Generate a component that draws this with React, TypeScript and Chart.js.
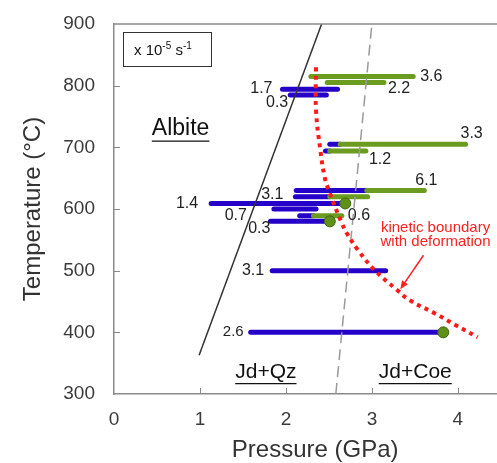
import React, { useEffect, useRef } from 'react';
import { Chart, registerables } from 'chart.js';
Chart.register(...registerables);

const FONT = "'Liberation Sans', Arial, Helvetica, sans-serif";

// Axis ticks
const xTickValues = [0, 1, 2, 3, 4];
const yTickValues = [300, 400, 500, 600, 700, 800, 900];
const xTitle = 'Pressure (GPa)';
const yTitle = 'Temperature (°C)';

// Experiments: temperature (°C), pressure range (GPa); blue part from start to switch, green from switch to end
const barTemps = [815, 805, 794, 785, 705, 694, 630, 620, 609, 600, 589, 580, 500, 400];
const barStart = [2.29, 2.48, 1.96, 2.05, 2.51, 2.46, 2.12, 2.11, 1.13, 1.86, 2.16, 1.82, 1.84, 1.59];
const barSwitch = [2.29, 2.48, 2.6, 2.47, 2.63, 2.51, 2.94, 2.51, 2.69, 2.35, 2.32, 2.51, 3.16, 3.83];
const barEnd = [3.48, 3.14, 2.6, 2.47, 4.09, 2.93, 3.61, 2.95, 2.69, 2.35, 2.65, 2.51, 3.16, 3.83];
const rateLabels = ['3.6', '2.2', '1.7', '0.3', '3.3', '1.2', '6.1', '3.1', '1.4', '0.7', '0.6', '0.3', '3.1', '2.6'];

// Dots at end of some runs
const dotP = [2.69, 2.51, 3.83];
const dotT = [609, 580, 400];

// Albite = Jd + Qz reaction line
const abLineP = [0.99, 2.415];
const abLineT = [363, 900];

// Qz = Coe line
const coeLineP = [2.58, 3.0];
const coeLineT = [300, 900];

// Kinetic boundary with deformation
const kbP = [2.35, 2.35, 2.4, 2.45, 2.51, 2.65, 2.72, 2.84, 3.03, 3.29, 3.44, 3.73, 3.97, 4.23];
const kbT = [830, 760, 696, 652, 626, 577, 558, 533, 501, 469, 452, 431, 412, 392];

// label placement (pixel offsets from bar start/end) – layout only
const labelPlace: { at: 'start' | 'end'; dx: number; dy: number; align: CanvasTextAlign; size: number }[] = [
  { at: 'end', dx: 7, dy: 0, align: 'left', size: 16 },
  { at: 'end', dx: 4, dy: 6, align: 'left', size: 16 },
  { at: 'start', dx: -10, dy: -1, align: 'right', size: 16 },
  { at: 'start', dx: -2, dy: 8, align: 'right', size: 16 },
  { at: 'end', dx: 6, dy: -11, align: 'center', size: 16 },
  { at: 'end', dx: 3, dy: 9, align: 'left', size: 16 },
  { at: 'end', dx: 2, dy: -10, align: 'center', size: 16 },
  { at: 'start', dx: -12, dy: -2, align: 'right', size: 16 },
  { at: 'start', dx: -13, dy: 0, align: 'right', size: 16 },
  { at: 'start', dx: -27, dy: 7, align: 'right', size: 16 },
  { at: 'end', dx: 6, dy: 0, align: 'left', size: 16 },
  { at: 'start', dx: 0, dy: 7, align: 'right', size: 16 },
  { at: 'start', dx: -8, dy: 0, align: 'right', size: 16 },
  { at: 'start', dx: -7, dy: 0, align: 'right', size: 15 },
];

const BLUE = '#2400c8';
const GREEN = '#6b9b1f';
const AXIS = '#8a8a8a';

const annotPlugin = {
  id: 'annot',
  afterLayout(chart: any) {
    // let the plot run to the right edge of the canvas, as in the original
    const xs = chart.scales.x;
    const right = chart.width;
    xs.right = right;
    xs.width = right - xs.left;
    xs.configure();
    chart.chartArea.right = right;
    chart.chartArea.width = right - chart.chartArea.left;
  },
  afterDatasetsDraw(chart: any) {
    const ctx: CanvasRenderingContext2D = chart.ctx;
    const xs = chart.scales.x;
    const ys = chart.scales.y;
    const area = chart.chartArea;
    ctx.save();
    // top frame line
    ctx.strokeStyle = AXIS;
    ctx.lineWidth = 1.5;
    ctx.beginPath();
    ctx.moveTo(area.left, area.top);
    ctx.lineTo(area.right, area.top);
    ctx.stroke();
    // inner tick marks
    ctx.lineWidth = 1;
    xTickValues.forEach((v) => {
      if (v === 0) return;
      const px = Math.round(xs.getPixelForValue(v)) + 0.5;
      ctx.beginPath();
      ctx.moveTo(px, area.bottom);
      ctx.lineTo(px, area.bottom - 6);
      ctx.stroke();
    });
    yTickValues.forEach((v) => {
      if (v === 300 || v === 900) return;
      const py = Math.round(ys.getPixelForValue(v)) + 0.5;
      ctx.beginPath();
      ctx.moveTo(area.left, py);
      ctx.lineTo(area.left + 6, py);
      ctx.stroke();
    });

    // x axis title (slightly right of centre, as in the original)
    ctx.fillStyle = '#333';
    ctx.font = `24px ${FONT}`;
    ctx.textAlign = 'center';
    ctx.textBaseline = 'middle';
    ctx.fillText(xTitle, xs.getPixelForValue(2.34), area.bottom + 56);

    // rate labels
    ctx.fillStyle = '#222';
    ctx.textBaseline = 'middle';
    rateLabels.forEach((t, i) => {
      const pl = labelPlace[i];
      const px = xs.getPixelForValue(pl.at === 'start' ? barStart[i] : barEnd[i]);
      const py = ys.getPixelForValue(barTemps[i]);
      ctx.font = `${pl.size}px ${FONT}`;
      ctx.textAlign = pl.align;
      ctx.fillText(t, px + pl.dx, py + pl.dy);
    });

    // underlined field names
    const underlined = (text: string, p: number, T: number, size: number) => {
      const px = xs.getPixelForValue(p);
      const py = ys.getPixelForValue(T);
      ctx.font = `${size}px ${FONT}`;
      ctx.textAlign = 'left';
      ctx.textBaseline = 'middle';
      ctx.fillStyle = '#111';
      ctx.fillText(text, px, py);
      const w = ctx.measureText(text).width;
      ctx.strokeStyle = '#111';
      ctx.lineWidth = 1.3;
      ctx.beginPath();
      ctx.moveTo(px, py + size * 0.56);
      ctx.lineTo(px + w, py + size * 0.56);
      ctx.stroke();
    };
    underlined('Albite', 0.44, 731, 23);
    underlined('Jd+Qz', 1.41, 336, 21);
    underlined('Jd+Coe', 3.08, 336, 21);

    // red annotation text
    ctx.fillStyle = '#ff2020';
    ctx.font = `15px ${FONT}`;
    ctx.textAlign = 'center';
    ctx.textBaseline = 'middle';
    const tx = xs.getPixelForValue(3.74);
    ctx.fillText('kinetic boundary', tx, ys.getPixelForValue(569));
    ctx.fillText('with deformation', tx, ys.getPixelForValue(547));

    // arrow
    const ax0 = xs.getPixelForValue(3.6), ay0 = ys.getPixelForValue(525);
    const ax1 = xs.getPixelForValue(3.33), ay1 = ys.getPixelForValue(470);
    ctx.strokeStyle = '#ff2020';
    ctx.fillStyle = '#ff2020';
    ctx.lineWidth = 1.5;
    const ang = Math.atan2(ay1 - ay0, ax1 - ax0);
    const hl = 9;
    ctx.beginPath();
    ctx.moveTo(ax0, ay0);
    ctx.lineTo(ax1 - Math.cos(ang) * 4, ay1 - Math.sin(ang) * 4);
    ctx.stroke();
    ctx.beginPath();
    ctx.moveTo(ax1, ay1);
    ctx.lineTo(ax1 - hl * Math.cos(ang - 0.4), ay1 - hl * Math.sin(ang - 0.4));
    ctx.lineTo(ax1 - hl * Math.cos(ang + 0.4), ay1 - hl * Math.sin(ang + 0.4));
    ctx.closePath();
    ctx.fill();

    // legend box for strain rate unit
    const bx = area.left + 9, by = area.top + 8, bw = 88, bh = 34;
    ctx.fillStyle = '#fff';
    ctx.fillRect(bx, by, bw, bh);
    ctx.strokeStyle = '#333';
    ctx.lineWidth = 1;
    ctx.strokeRect(bx + 0.5, by + 0.5, bw, bh);
    ctx.fillStyle = '#111';
    ctx.textAlign = 'left';
    ctx.textBaseline = 'alphabetic';
    let cx = bx + 11;
    const base = by + 23;
    const seg = (s: string, size: number, dy: number) => {
      ctx.font = `${size}px ${FONT}`;
      ctx.fillText(s, cx, base + dy);
      cx += ctx.measureText(s).width;
    };
    seg('x 10', 15, 0);
    seg('-5', 10, -6);
    seg(' s', 15, 0);
    seg('-1', 10, -6);
    ctx.restore();
  },
};

export default function App() {
  const ref = useRef<HTMLCanvasElement | null>(null);
  useEffect(() => {
    document.body.style.margin = '0';
    const canvas = ref.current;
    if (!canvas) return;
    const datasets: any[] = [];
    // dots (on top)
    datasets.push({
      data: dotP.map((p, i) => ({ x: p, y: dotT[i] })),
      showLine: false,
      pointRadius: 5.5,
      pointBackgroundColor: '#5f911a',
      pointBorderColor: '#3d6410',
      pointBorderWidth: 1,
    });
    // kinetic boundary
    datasets.push({
      data: kbP.map((p, i) => ({ x: p, y: kbT[i] })),
      showLine: true,
      borderColor: '#ff1a1a',
      borderWidth: 4,
      borderDash: [4, 4.5],
      borderCapStyle: 'butt',
      tension: 0.4,
      pointRadius: 0,
    });
    datasets.push({
      data: abLineP.map((p, i) => ({ x: p, y: abLineT[i] })),
      showLine: true,
      borderColor: '#333',
      borderWidth: 1.5,
      pointRadius: 0,
    });
    datasets.push({
      data: coeLineP.map((p, i) => ({ x: p, y: coeLineT[i] })),
      showLine: true,
      borderColor: '#9a9a9a',
      borderWidth: 1.5,
      borderDash: [11, 6],
      pointRadius: 0,
    });
    // green parts then blue parts
    barTemps.forEach((T, i) => {
      if (barEnd[i] > barSwitch[i]) {
        datasets.push({
          data: [{ x: barSwitch[i], y: T }, { x: barEnd[i], y: T }],
          showLine: true,
          borderColor: GREEN,
          borderWidth: 5,
          borderCapStyle: 'round',
          pointRadius: 0,
        });
      }
    });
    barTemps.forEach((T, i) => {
      if (barSwitch[i] > barStart[i]) {
        datasets.push({
          data: [{ x: barStart[i], y: T }, { x: barSwitch[i], y: T }],
          showLine: true,
          borderColor: BLUE,
          borderWidth: 5,
          borderCapStyle: 'round',
          pointRadius: 0,
        });
      }
    });

    const chart = new Chart(canvas, {
      type: 'scatter',
      data: { datasets },
      options: {
        responsive: false,
        animation: false,
        devicePixelRatio: 1,
        layout: { padding: { top: 24, right: 0, left: 0, bottom: 0 } },
        plugins: { legend: { display: false }, tooltip: { enabled: false } },
        scales: {
          x: {
            type: 'linear',
            min: 0,
            max: 4.455,
            afterBuildTicks: (s: any) => {
              s.ticks = xTickValues.map((v) => ({ value: v }));
            },
            afterFit: (s: any) => {
              s.height = 69;
              s.paddingLeft = 0;
              s.paddingRight = 0;
            },
            ticks: { font: { family: FONT, size: 19 }, color: '#3a3a3a', padding: 14 },
            grid: { display: false, drawTicks: false },
            border: { display: true, color: AXIS, width: 1.5 },
            title: { display: false },
          },
          y: {
            type: 'linear',
            min: 300,
            max: 900,
            afterBuildTicks: (s: any) => {
              s.ticks = yTickValues.map((v) => ({ value: v }));
            },
            afterFit: (s: any) => {
              s.width = 114;
              s.paddingTop = 0;
              s.paddingBottom = 0;
            },
            ticks: { font: { family: FONT, size: 19 }, color: '#3a3a3a', padding: 19 },
            grid: { display: false, drawTicks: false },
            border: { display: true, color: AXIS, width: 1.5 },
            title: {
              display: true,
              text: yTitle,
              font: { family: FONT, size: 24 },
              color: '#333',
              padding: { top: 19, bottom: 0 },
            },
          },
        },
      },
      plugins: [annotPlugin],
    } as any);
    return () => chart.destroy();
  }, []);
  return <canvas ref={ref} width={497} height={463} style={{ display: 'block' }} />;
}
